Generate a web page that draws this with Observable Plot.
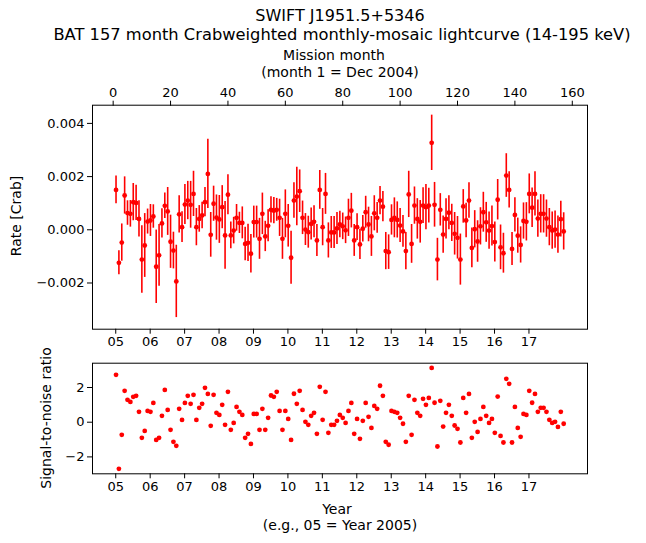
<!DOCTYPE html>
<html><head><meta charset="utf-8">
<script src="https://cdn.jsdelivr.net/npm/d3@7"></script>
<script src="https://cdn.jsdelivr.net/npm/@observablehq/plot@0.6"></script>
<style>
body{margin:0;background:#fff;}
#wrap{position:relative;width:646px;height:543px;font-family:"DejaVu Sans",sans-serif;color:#000;background:#fff;}
.t{position:absolute;white-space:nowrap;line-height:1;transform:translate(-50%,-50%);text-align:center;}
.r{position:absolute;white-space:nowrap;line-height:1;transform:translate(-50%,-50%) rotate(-90deg);}
#wrap svg{position:absolute;left:0;overflow:visible;}
</style></head>
<body><div id="wrap"></div>
<script>
const rate = [
 0.0015,-0.00124,-0.00048,0.00129,0.00063,0.0006,0.00104,0.00101,0.00041,-0.00112,
 -0.00059,0.00031,0.00035,0.0005,-0.00139,-0.00096,0.00024,0.0009,0.00069,-0.00045,
 -0.00078,-0.00194,0.00058,0.0001,0.00095,0.0011,0.00094,0.00135,0.0001,0.00041,
 0.00054,0.00104,0.0021,-0.00019,0.00098,0.00046,0.00039,0.00085,-0.00021,0.00132,
 -0.00021,-0.00003,0.00045,0.00026,0.00026,-0.00053,-0.00049,-0.0009,0.00029,0.00029,
 -0.00034,0.0006,-0.00025,0.00015,0.00075,0.00072,0.00075,0.00045,-0.00034,0.0006,
 0.00015,-0.00105,0.0011,0.00125,0.00145,0.00045,0.00001,-0.00009,0.00022,0.0003,
 -0.0004,0.0015,0.0001,0.00135,-0.0004,-0.0001,-0.0001,0.00005,0.0002,0.00013,
 -0.00002,0.00045,0.00072,-0.0004,0.0001,-0.00055,0.00004,0.00066,0.0002,-0.00025,
 0.00062,0.00045,0.0011,0.00087,-0.0008,-0.00084,0.00037,0.00045,0.00037,0.00016,
 -0.00006,-0.0008,0.00133,-0.00053,0.00091,0.00041,0.0003,0.00091,0.00085,0.00091,
 0.00327,0.00094,-0.00112,0.00075,-0.00018,0.00041,0.00064,0.00026,-0.00015,-0.0003,
 -0.00112,0.00088,0.00035,0.0011,-0.00068,0.00002,-0.00044,0.00013,0.00066,0.00028,
 -0.00003,0.00014,-0.00046,0.00113,-0.00066,-0.00088,0.00204,0.0015,-0.00072,0.00056,
 -0.00022,-0.00057,0.00033,0.0003,0.00135,0.00083,0.00135,0.00042,0.0006,0.0006,
 0.00042,0.0001,-0.00003,0.00001,-0.00018,0.0004,-0.00006
];
const rateErr = [
 0.00052,0.00045,0.0007,0.0007,0.00046,0.0005,0.0007,0.00066,0.00068,0.00127,
 0.0012,0.00047,0.0006,0.00044,0.00138,0.00116,0.00055,0.00048,0.0009,0.001,
 0.00069,0.00136,0.0007,0.00058,0.00075,0.00072,0.00088,0.00085,0.0007,0.0005,
 0.0005,0.00055,0.0013,0.00084,0.00066,0.00085,0.0009,0.00081,0.00127,0.00075,
 0.0005,0.0005,0.0005,0.0004,0.0006,0.00063,0.0007,0.00072,0.0006,0.0006,
 0.00077,0.00078,0.00057,0.0006,0.00049,0.00049,0.00043,0.0007,0.00077,0.0009,
 0.0008,0.001,0.00067,0.0011,0.0008,0.00063,0.0006,0.0006,0.0006,0.0006,
 0.0006,0.00073,0.0007,0.00077,0.00066,0.0006,0.0006,0.0006,0.0005,0.0005,
 0.0005,0.0007,0.00065,0.0006,0.0005,0.00057,0.0005,0.0006,0.00065,0.00075,
 0.00066,0.00058,0.00053,0.00057,0.0007,0.00065,0.00057,0.00075,0.00068,0.00064,
 0.0006,0.0007,0.00087,0.00073,0.0007,0.00076,0.0008,0.00067,0.00085,0.00065,
 0.00104,0.00084,0.0008,0.00061,0.0007,0.00076,0.00064,0.0007,0.0008,0.0008,
 0.00096,0.00063,0.00065,0.00067,0.00075,0.0007,0.00078,0.0007,0.00075,0.00075,
 0.0007,0.00075,0.00075,0.00076,0.00084,0.00075,0.00082,0.00068,0.00062,0.00064,
 0.00066,0.00068,0.00068,0.00072,0.00075,0.00074,0.00083,0.0007,0.00072,0.00072,
 0.0007,0.0007,0.0007,0.0007,0.0007,0.00067,0.0007
];
const snr = [
 2.73,-2.69,-0.73,1.81,1.29,1.17,1.46,1.52,0.6,-0.9,
 -0.5,0.65,0.6,1.11,-1.02,-0.9,0.37,1.86,0.71,-0.44,
 -1.13,-1.36,0.77,0.13,1.11,1.52,1.06,1.58,0.13,0.83,
 1.06,1.98,1.63,-0.21,1.58,0.54,0.42,1.0,-0.15,1.75,
 -0.44,-0.04,0.88,0.6,0.42,-0.9,-0.67,-1.25,0.48,0.48,
 -0.44,0.77,-0.44,0.25,1.54,1.46,1.75,0.65,-0.44,0.65,
 0.19,-1.02,1.64,1.06,1.81,0.71,0.02,-0.15,0.37,0.54,
 -0.67,2.04,0.14,1.75,-0.61,-0.15,-0.15,0.08,0.42,0.25,
 -0.04,0.65,1.11,-0.67,0.19,-0.96,0.08,1.11,0.31,-0.33,
 0.94,0.77,2.10,1.52,-1.13,-1.3,0.65,0.6,0.54,0.25,
 -0.09,-1.13,1.52,-0.73,1.29,0.54,0.37,1.35,1.0,1.4,
 3.13,1.12,-1.4,1.23,-0.25,0.54,1.0,0.37,-0.19,-0.38,
 -1.17,1.4,0.54,1.63,-0.9,0.02,-0.56,0.19,0.88,0.37,
 -0.04,0.19,-0.61,1.48,-0.79,-1.17,2.5,2.21,-1.17,0.88,
 -0.33,-0.84,0.48,0.42,1.81,1.12,1.63,0.6,0.83,0.83,
 0.6,0.14,-0.04,0.02,-0.27,0.6,-0.09
];
const yearLabels = ["05","06","07","08","09","10","11","12","13","14","15","16","17"];
const monthTicks = [0,20,40,60,80,100,120,140,160];
const rateTicks = [-0.002,0,0.002,0.004];
const snrTicks = [-2,0,2];

const data = rate.map((v,i)=>({m:i+1, rate:v, err:rateErr[i], snr:snr[i]}));
const yearTickPos = yearLabels.map((s,i)=>0.9 + 12*i);
const yearFmt = d => yearLabels[Math.round((d-0.9)/12)];
const xDomain = [-7.2, 165.3];
const baseStyle = {fontFamily:"DejaVu Sans", fontSize:"13px", color:"black", background:"transparent", overflow:"visible"};

const topPlot = Plot.plot({
  width:646, height:360,
  marginLeft:92, marginRight:59, marginTop:104.7, marginBottom:31.3,
  style: baseStyle,
  x:{domain:xDomain}, y:{domain:[-0.003737,0.004684]},
  marks:[
    Plot.ruleX(data,{x:"m", y1:d=>d.rate-d.err, y2:d=>d.rate+d.err, stroke:"red", strokeWidth:1.6}),
    Plot.dot(data,{x:"m", y:"rate", r:2.4, fill:"red", stroke:"none"}),
    Plot.frame({stroke:"black", strokeWidth:1}),
    Plot.axisX({ticks:monthTicks, anchor:"top", tickSize:5, tickPadding:3, label:null}),
    Plot.axisX({ticks:yearTickPos, anchor:"bottom", tickSize:5, tickPadding:3, tickFormat:yearFmt, label:null}),
    Plot.axisY({ticks:rateTicks, anchor:"left", tickSize:5, tickPadding:3, tickFormat:d3.format(".3f"), label:null})
  ]
});
topPlot.style.top = "0px";

const botPlot = Plot.plot({
  width:646, height:188,
  marginLeft:92, marginRight:59, marginTop:7.7, marginBottom:69.7,
  style: baseStyle,
  x:{domain:xDomain}, y:{domain:[-2.974,3.401]},
  marks:[
    Plot.dot(data,{x:"m", y:"snr", r:2.4, fill:"red", stroke:"none"}),
    Plot.frame({stroke:"black", strokeWidth:1}),
    Plot.axisX({ticks:yearTickPos, anchor:"bottom", tickSize:5, tickPadding:3, tickFormat:yearFmt, label:null}),
    Plot.axisY({ticks:snrTicks, anchor:"left", tickSize:5, tickPadding:3, tickFormat:d3.format("d"), label:null})
  ]
});
botPlot.style.top = "355px";

const wrap = document.getElementById("wrap");
wrap.appendChild(topPlot);
wrap.appendChild(botPlot);

function addText(cls, s, x, y, fs) {
  const d = document.createElement("div");
  d.className = cls;
  d.textContent = s;
  d.style.left = x + "px";
  d.style.top = y + "px";
  d.style.fontSize = fs + "px";
  wrap.appendChild(d);
}
addText("t", "SWIFT J1951.5+5346", 340, 15.5, 16);
addText("t", "BAT 157 month Crabweighted monthly-mosaic lightcurve (14-195 keV)", 342, 35, 16.3);
addText("t", "Mission month", 334, 55, 14);
addText("t", "(month 1 = Dec 2004)", 340, 71.5, 14);
addText("r", "Rate [Crab]", 16, 216, 14);
addText("r", "Signal-to-noise ratio", 46, 418, 14);
addText("t", "Year", 337, 508.5, 14);
addText("t", "(e.g., 05 = Year 2005)", 340, 525, 14);
</script>
</body></html>
